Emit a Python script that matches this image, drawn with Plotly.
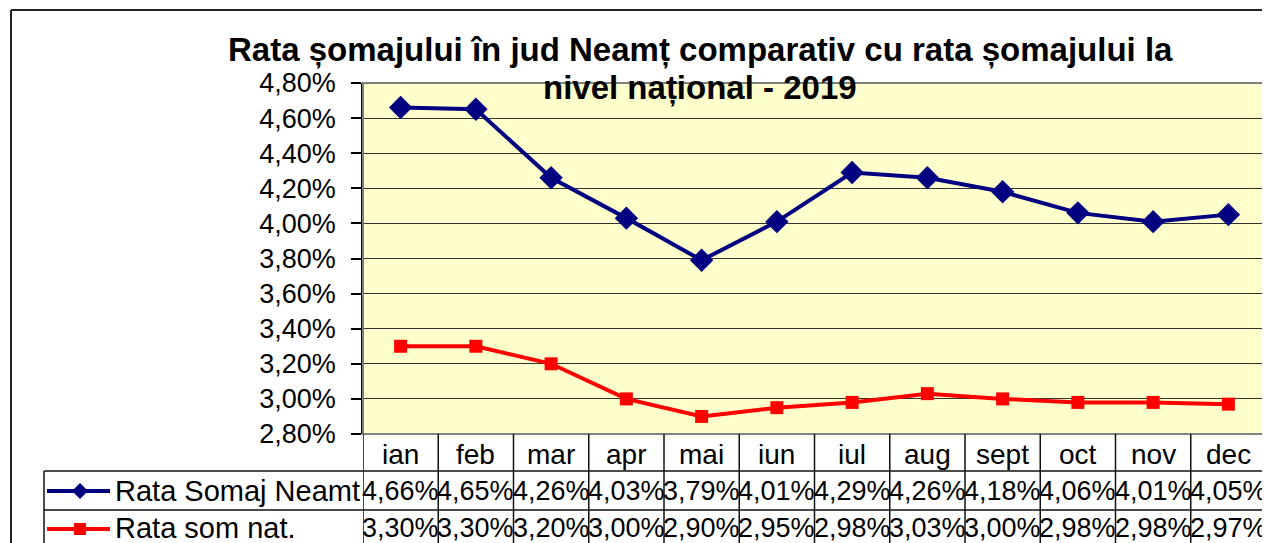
import plotly.graph_objects as go

months = ["ian", "feb", "mar", "apr", "mai", "iun", "iul", "aug", "sept", "oct", "nov", "dec"]
neamt = [4.66, 4.65, 4.26, 4.03, 3.79, 4.01, 4.29, 4.26, 4.18, 4.06, 4.01, 4.05]
national = [3.30, 3.30, 3.20, 3.00, 2.90, 2.95, 2.98, 3.03, 3.00, 2.98, 2.98, 2.97]
series_names = ["Rata Somaj Neamt", "Rata som nat."]
title_lines = ["Rata șomajului în jud Neamț comparativ cu rata șomajului la", "nivel național - 2019"]

# the page body offsets the figure by 8 px; size it to fill the rest of the window
W, H = 1262, 535
OX, OY = 8, 8
def px(x):
    return (x - OX) / W
def py(y):
    return 1 - (y - OY) / H

PL, PR, PT, PB = 363, 1266, 83, 434
FONT = "Liberation Sans, Arial, sans-serif"
BLUE = "#000080"
RED = "#FF0000"

def fmt(v):
    return f"{v:.2f}%".replace(".", ",")

xs = list(range(len(months)))

fig = go.Figure()
fig.add_trace(go.Scatter(x=xs, y=neamt, mode="lines+markers", name=series_names[0],
                         line=dict(color=BLUE, width=4),
                         marker=dict(symbol="diamond", size=18, color=BLUE)))
fig.add_trace(go.Scatter(x=xs, y=national, mode="lines+markers", name=series_names[1],
                         line=dict(color=RED, width=4),
                         marker=dict(symbol="square", size=13, color=RED)))

shapes = []
annotations = []

# plot-area border
shapes.append(dict(type="rect", xref="x domain", yref="y domain", x0=0, x1=1, y0=0, y1=1,
                   line=dict(color="#808080", width=2), layer="above"))

# outer chart frame
LINE = dict(color="#222222", width=2)
shapes.append(dict(type="line", xref="paper", yref="paper", x0=px(11), x1=px(1300), y0=py(10), y1=py(10), line=LINE))
shapes.append(dict(type="line", xref="paper", yref="paper", x0=px(11), x1=px(11), y0=py(10), y1=py(600), line=LINE))

# data table grid
TL = dict(color="#111111", width=1.5)
for i in range(len(months) + 1):
    shapes.append(dict(type="line", xref="x", yref="paper", x0=i - 0.5, x1=i - 0.5,
                       y0=py(PB), y1=py(600), line=TL))
for yy in (471, 510):
    shapes.append(dict(type="line", xref="paper", yref="paper", x0=px(44), x1=px(PR),
                       y0=py(yy), y1=py(yy), line=TL))
shapes.append(dict(type="line", xref="paper", yref="paper", x0=px(44), x1=px(44),
                   y0=py(471), y1=py(600), line=TL))

# legend keys inside the table
for yk, col in ((491, BLUE), (529, RED)):
    shapes.append(dict(type="line", xref="paper", yref="paper", x0=px(47), x1=px(110),
                       y0=py(yk), y1=py(yk), line=dict(color=col, width=4)))
cx, cy, d = 80, 491, 8
shapes.append(dict(type="path", xref="paper", yref="paper",
                   path=f"M {px(cx - d)} {py(cy)} L {px(cx)} {py(cy - d)} L {px(cx + d)} {py(cy)} L {px(cx)} {py(cy + d)} Z",
                   fillcolor=BLUE, line=dict(color=BLUE, width=0)))
cx, cy, s = 80, 529, 6
shapes.append(dict(type="rect", xref="paper", yref="paper", x0=px(cx - s), x1=px(cx + s),
                   y0=py(cy + s), y1=py(cy - s), fillcolor=RED, line=dict(color=RED, width=0)))

TXT = dict(family=FONT, size=27, color="#000000")
MTXT = dict(family=FONT, size=28, color="#000000")
for i, m in enumerate(months):
    annotations.append(dict(x=i, y=py(454), xref="x", yref="paper", text=m, showarrow=False,
                            font=MTXT, xanchor="center", yanchor="middle"))
    annotations.append(dict(x=i, y=py(491), xref="x", yref="paper", text=fmt(neamt[i]), showarrow=False,
                            font=TXT, xanchor="center", yanchor="middle"))
    annotations.append(dict(x=i, y=py(528), xref="x", yref="paper", text=fmt(national[i]), showarrow=False,
                            font=TXT, xanchor="center", yanchor="middle"))
for name, yy in zip(series_names, (491, 528)):
    annotations.append(dict(x=px(113), y=py(yy), xref="paper", yref="paper", text=name, showarrow=False,
                            font=dict(family=FONT, size=29, color="#000000"), xanchor="left", yanchor="middle"))

# two-line bold title
for t, yy in zip(title_lines, (50, 88)):
    annotations.append(dict(x=px(700), y=py(yy), xref="paper", yref="paper", text=f"<b>{t}</b>",
                            showarrow=False, font=dict(family=FONT, size=33, color="#000000"),
                            xanchor="center", yanchor="middle"))

fig.update_layout(
    width=W, height=H,
    margin=dict(l=0, r=0, t=0, b=0, pad=0, autoexpand=False),
    paper_bgcolor="#FFFFFF",
    plot_bgcolor="#FFFFCC",
    separators=", ",
    showlegend=False,
    shapes=shapes,
    annotations=annotations,
    xaxis=dict(domain=[px(PL), px(PR)], range=[-0.5, 11.5], showgrid=False, zeroline=False,
               showticklabels=False, ticks="", showline=False, fixedrange=True, automargin=False),
    yaxis=dict(domain=[py(PB), py(PT)], range=[2.8, 4.8], dtick=0.2, tick0=2.8,
               tickformat=".2f", ticksuffix="%", showgrid=True, gridcolor="#333333", gridwidth=1,
               zeroline=False, showline=True, linecolor="#000000", linewidth=1.5,
               ticks="outside", ticklen=10, tickcolor="#000000", tickwidth=1.5,
               ticklabelstandoff=10, automargin=False,
               tickfont=dict(family=FONT, size=27, color="#000000"), fixedrange=True),
)

fig.write_html("out.html")
